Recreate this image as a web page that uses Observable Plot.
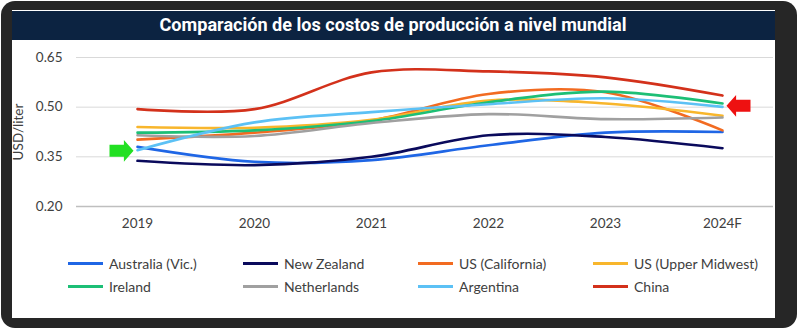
<!DOCTYPE html>
<html>
<head>
<meta charset="utf-8">
<script src="https://cdn.jsdelivr.net/npm/d3@7"></script>
<script src="https://cdn.jsdelivr.net/npm/@observablehq/plot@0.6"></script>
<style>
  html, body { margin: 0; padding: 0; background: #fff; width: 800px; height: 330px; overflow: hidden; }
  #frame { position: absolute; left: 1px; top: 1px; width: 796px; height: 327px; background: #262626; border-radius: 14px; }
  #card { position: absolute; left: 12px; top: 10px; width: 763px; height: 308px; background: #fff; }
  #title { position: absolute; left: 12px; top: 11px; width: 763px; height: 29px; background: #0c2341; color: #fff;
           font-family: Roboto, sans-serif; font-weight: 700; font-size: 17.5px; line-height: 29px; text-align: center; white-space: nowrap; overflow: hidden; }
  #title span { display: inline-block; transform-origin: center; }
  #chart { position: absolute; left: 0; top: 40px; }
  #legend { position: absolute; left: 68px; top: 255px; font-family: Lato, "Open Sans", sans-serif; font-size: 14px; color: #404040;
            display: grid; grid-template-columns: 175px 175px 175px 175px; row-gap: 6px; }
  .item { display: flex; align-items: center; height: 17px; white-space: nowrap; }
  .sw { width: 35px; height: 3px; margin-right: 6px; }
</style>
</head>
<body>
<div id="frame"></div>
<div id="card"></div>
<div id="title"><span id="titletext"></span></div>
<div id="chart"></div>
<div id="legend"></div>
<script>
const years = ["2019", "2020", "2021", "2022", "2023", "2024F"];
const seriesNames = ["Australia (Vic.)", "New Zealand", "US (California)", "US (Upper Midwest)", "Ireland", "Netherlands", "Argentina", "China"];
const seriesColors = ["#1f66e5", "#0a0a5c", "#f26b21", "#f8b62c", "#1dbf76", "#a0a0a0", "#5cc1f5", "#d3311b"];
const australia   = [0.380, 0.335, 0.340, 0.385, 0.423, 0.425];
const newZealand  = [0.338, 0.325, 0.350, 0.415, 0.410, 0.376];
const california  = [0.402, 0.423, 0.460, 0.540, 0.545, 0.430];
const midwest     = [0.440, 0.438, 0.462, 0.520, 0.511, 0.474];
const ireland     = [0.423, 0.430, 0.458, 0.515, 0.547, 0.511];
const netherlands = [0.415, 0.413, 0.452, 0.479, 0.464, 0.469];
const argentina   = [0.370, 0.454, 0.485, 0.509, 0.527, 0.501];
const china       = [0.494, 0.494, 0.605, 0.608, 0.590, 0.535];
const yTicks = [0.20, 0.35, 0.50, 0.65];
const yLabel = "USD/liter";
const titleText = "Comparación de los costos de producción a nivel mundial";
// annotation arrows
const arrowYears = ["2019", "2024F"];
const arrowValues = [0.368, 0.504];
const arrowRotate = [0, 180];
const arrowColors = ["#22e022", "#ee1111"];

const allSeries = [australia, newZealand, california, midwest, ireland, netherlands, argentina, china];
const rows = [];
allSeries.forEach((vals, i) => vals.forEach((v, j) => rows.push({series: seriesNames[i], year: years[j], value: v})));
const arrows = arrowYears.map((y, i) => ({year: y, value: arrowValues[i], rotate: arrowRotate[i], color: arrowColors[i]}));

const blockArrow = {
  draw(ctx, size) {
    const s = Math.sqrt(size / Math.PI);
    const pts = [[-1, -0.5], [0.2, -0.5], [0.2, -0.9], [1, 0], [0.2, 0.9], [0.2, 0.5], [-1, 0.5]];
    ctx.moveTo(pts[0][0] * s, pts[0][1] * s);
    for (let k = 1; k < pts.length; k++) ctx.lineTo(pts[k][0] * s, pts[k][1] * s);
    ctx.closePath();
  }
};

const chart = Plot.plot({
  width: 800,
  height: 200,
  marginLeft: 76,
  marginRight: 27,
  marginTop: 17,
  marginBottom: 34,
  insetLeft: 59,
  insetRight: 50,
  style: {background: "transparent", fontFamily: "Lato, 'Open Sans', sans-serif", fontSize: "13.5px", color: "#404040"},
  x: {type: "point", domain: years, padding: 0, label: null},
  y: {domain: [0.20, 0.65], label: null},
  marks: [
    Plot.ruleY(yTicks.filter(t => t > 0.2), {stroke: "#d9d9d9", strokeWidth: 1}),
    Plot.ruleY([0.20], {stroke: "#bfbfbf", strokeWidth: 1.5}),
    Plot.axisY({ticks: yTicks, tickSize: 0, tickPadding: 14, tickFormat: d3.format(".2f"), label: null, fontSize: 13.5}),
    Plot.text([yLabel], {frameAnchor: "left", textAnchor: "middle", rotate: -90, dx: -58, fontSize: 13.5, fill: "#404040"}),
    Plot.axisX({tickSize: 0, tickPadding: 12, label: null, fontSize: 13.5}),
    Plot.line(rows, {x: "year", y: "value", z: "series",
      stroke: d => seriesColors[seriesNames.indexOf(d.series)],
      strokeWidth: 2.6, curve: "catmull-rom"}),
    Plot.dot(arrows, {x: "year", y: "value", symbol: blockArrow, r: 12, rotate: "rotate", fill: "color", stroke: null})
  ]
});
document.getElementById("chart").appendChild(chart);
// offset arrows from their anchor year (left of 2019, right of 2024F)
chart.querySelectorAll("g[aria-label='dot'] path").forEach((p, i) => {
  const off = arrowRotate[i] === 0 ? -16 : 16;
  p.setAttribute("transform", p.getAttribute("transform").replace(/translate\(([-\d.]+),([-\d.]+)\)/, (m, a, b) => `translate(${+a + off},${b})`));
});

// legend built from the series arrays
const legend = document.getElementById("legend");
seriesNames.forEach((name, i) => {
  const it = document.createElement("div");
  it.className = "item";
  it.innerHTML = `<div class="sw" style="background:${seriesColors[i]}"></div><span>${name}</span>`;
  legend.appendChild(it);
});

// fit title to width
const tt = document.getElementById("titletext");
tt.textContent = titleText;
const w = tt.getBoundingClientRect().width;
tt.style.transform = `scaleX(${467 / w})`;
</script>
</body>
</html>
